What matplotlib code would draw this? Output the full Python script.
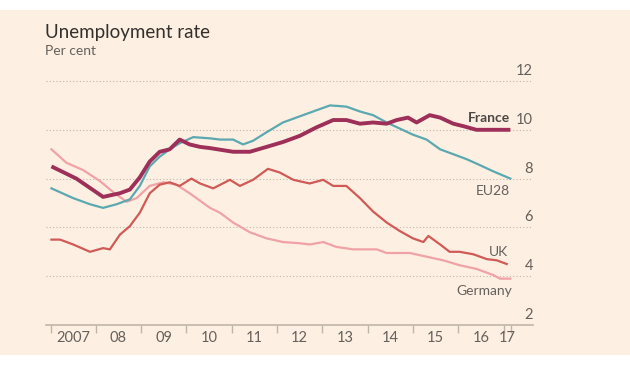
import matplotlib
matplotlib.use("Agg")
import matplotlib.pyplot as plt
import matplotlib.patches as patches
import matplotlib.transforms as transforms

# unemployment rates (per cent)
france_x = [2007.02, 2007.57, 2008.16, 2008.53, 2008.75, 2008.97, 2009.19, 2009.41, 2009.63, 2009.85,
            2010.07, 2010.3, 2010.52, 2011.03, 2011.4, 2011.77, 2012.13, 2012.5, 2012.87, 2013.24,
            2013.53, 2013.83, 2014.12, 2014.42, 2014.64, 2014.89, 2015.08, 2015.37, 2015.6, 2015.89,
            2016.11, 2016.4, 2017.15]
france_y = [8.5, 8.0, 7.25, 7.4, 7.55, 8.05, 8.7, 9.1, 9.2, 9.6,
            9.4, 9.3, 9.25, 9.1, 9.1, 9.3, 9.5, 9.75, 10.1, 10.4,
            10.4, 10.25, 10.3, 10.25, 10.4, 10.5, 10.3, 10.6, 10.5, 10.25,
            10.15, 10.0, 10.0]

eu28_x = [2007.02, 2007.5, 2007.87, 2008.16, 2008.46, 2008.75, 2008.97, 2009.19, 2009.41, 2009.63,
          2009.85, 2010.15, 2010.52, 2010.74, 2011.03, 2011.25, 2011.47, 2011.77, 2012.13, 2012.5,
          2012.87, 2013.17, 2013.53, 2013.83, 2014.12, 2014.42, 2014.71, 2015.0, 2015.3, 2015.6,
          2015.89, 2016.18, 2016.48, 2016.77, 2017.15]
eu28_y = [7.6, 7.2, 6.95, 6.8, 6.95, 7.15, 7.7, 8.5, 8.9, 9.2,
          9.45, 9.7, 9.65, 9.6, 9.6, 9.4, 9.55, 9.9, 10.3, 10.55,
          10.8, 11.0, 10.95, 10.75, 10.6, 10.3, 10.05, 9.8, 9.6, 9.2,
          9.0, 8.8, 8.55, 8.3, 8.0]

uk_x = [2007.02, 2007.21, 2007.5, 2007.87, 2008.16, 2008.31, 2008.53, 2008.75, 2008.97, 2009.19,
        2009.41, 2009.63, 2009.85, 2010.11, 2010.3, 2010.59, 2010.96, 2011.18, 2011.47, 2011.8,
        2012.06, 2012.36, 2012.72, 2013.02, 2013.24, 2013.53, 2013.83, 2014.12, 2014.42, 2014.71,
        2015.0, 2015.23, 2015.34, 2015.6, 2015.81, 2016.03, 2016.33, 2016.63, 2016.85, 2017.07]
uk_y = [5.5, 5.5, 5.3, 5.0, 5.15, 5.1, 5.7, 6.05, 6.6, 7.4,
        7.75, 7.85, 7.7, 8.0, 7.8, 7.6, 7.95, 7.7, 7.95, 8.4,
        8.25, 7.95, 7.8, 7.95, 7.7, 7.7, 7.2, 6.65, 6.2, 5.85,
        5.55, 5.4, 5.65, 5.3, 5.0, 5.0, 4.9, 4.7, 4.65, 4.5]

germany_x = [2007.02, 2007.35, 2007.72, 2008.09, 2008.38, 2008.68, 2008.9, 2009.19, 2009.49, 2009.78,
             2010.07, 2010.37, 2010.52, 2010.74, 2011.03, 2011.4, 2011.77, 2012.13, 2012.5, 2012.72,
             2013.02, 2013.31, 2013.68, 2014.05, 2014.2, 2014.42, 2014.93, 2015.3, 2015.67, 2016.03,
             2016.4, 2016.77, 2016.92, 2017.15]
germany_y = [9.2, 8.65, 8.35, 7.9, 7.45, 7.05, 7.2, 7.7, 7.85, 7.75,
             7.4, 7.0, 6.8, 6.6, 6.2, 5.8, 5.55, 5.4, 5.35, 5.3,
             5.4, 5.2, 5.1, 5.1, 5.1, 4.95, 4.95, 4.8, 4.65, 4.45,
             4.3, 4.05, 3.9, 3.9]

y_ticks = [2, 4, 6, 8, 10, 12]
year_ticks = [2007, 2008, 2009, 2010, 2011, 2012, 2013, 2014, 2015, 2016, 2017, 2017.16]
year_label_pos = [2007.5, 2008.5, 2009.5, 2010.5, 2011.5, 2012.5, 2013.5, 2014.5, 2015.5, 2016.5, 2017.08]
year_labels = ["2007", "08", "09", "10", "11", "12", "13", "14", "15", "16", "17"]

bg = "#fdf0e2"
grey_text = "#66605c"
grid_col = "#bfb6ab"

plt.rcParams['font.family'] = ['Lato', 'DejaVu Sans']

W, H = 630, 367
fig = plt.figure(figsize=(W / 100, H / 100), dpi=100, facecolor="white")
fig.patches.append(patches.Rectangle((0, 12 / H), 1, (355 - 10) / H, transform=fig.transFigure,
                                     facecolor=bg, edgecolor="none", zorder=-10))

ax = fig.add_axes([46 / W, 42 / H, 487 / W, (325 - 68.8) / H])
ax.set_facecolor("none")
ax.set_xlim(2006.9, 2017.65)
ax.set_ylim(2, 12.5)

for s in ["top", "right", "left"]:
    ax.spines[s].set_visible(False)
ax.spines["bottom"].set_color(grid_col)
ax.spines["bottom"].set_linewidth(1.2)

ax.set_yticks(y_ticks[1:])
ax.tick_params(axis="y", left=False, labelleft=False)
ax.grid(axis="y", color=grid_col, linestyle=(0, (1, 2)), linewidth=0.8)

ax.set_xticks(year_ticks)
ax.set_xticklabels([])
ax.set_xticks(year_label_pos, minor=True)
ax.set_xticklabels(year_labels, minor=True)
ax.tick_params(axis="x", which="major", direction="out", length=6, width=1, color=grid_col)
ax.tick_params(axis="x", which="minor", length=0, labelsize=10.5, labelcolor=grey_text, pad=4)

ax.plot(germany_x, germany_y, color="#f0a2a6", linewidth=1.6, zorder=3)
ax.plot(uk_x, uk_y, color="#d05a56", linewidth=1.6, zorder=4)
ax.plot(eu28_x, eu28_y, color="#5ba8b1", linewidth=1.6, zorder=5)
ax.plot(france_x, france_y, color="#9e2f59", linewidth=2.8, zorder=6, solid_capstyle="butt")

# y labels sit on top of the gridlines at the right
trans = transforms.blended_transform_factory(ax.transAxes, ax.transData)
for v in y_ticks:
    ax.text(1.0, v + 0.12, str(v), transform=trans, ha="right", va="bottom",
            fontsize=10.5, color=grey_text)

ax.text(2017.15, 10.25, "France", ha="right", va="bottom", fontsize=10, fontweight="bold", color="#4d4845")
ax.text(2017.15, 7.75, "EU28", ha="right", va="top", fontsize=10, color=grey_text)
ax.text(2017.1, 4.75, "UK", ha="right", va="bottom", fontsize=10, color=grey_text)
ax.text(2017.2, 3.65, "Germany", ha="right", va="top", fontsize=10, color=grey_text)

fig.text(45 / W, 1 - 38 / H, "Unemployment rate", fontsize=13.5, color="#33302e", va="baseline")
fig.text(45 / W, 1 - 55 / H, "Per cent", fontsize=10, color=grey_text, va="baseline")

fig.savefig("out.png", dpi=100, facecolor="white")
